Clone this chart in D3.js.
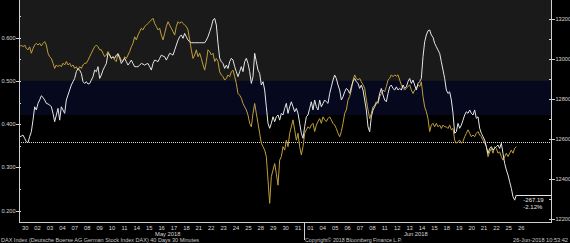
<!DOCTYPE html>
<html><head><meta charset="utf-8">
<script src="https://cdn.jsdelivr.net/npm/d3@7"></script>
<style>html,body{margin:0;padding:0;background:#000;overflow:hidden}svg{display:block}</style>
</head><body>
<script>
// ---------- data ----------
const dayLabels = ["30","02","03","04","07","08","09","10","11","14","15","16","17","18",
  "21","22","23","24","25","28","29","30","31","01","04","05","06","07","08","11","12",
  "13","14","15","18","19","20","21","22","25","26"];
const monthNames = ["May 2018","Jun 2018"];
const monthFirstDay = [1, 23];
const monthLastDay = [22, 40];
const leftTicks = [0.2, 0.3, 0.4, 0.5, 0.6];
const rightTicks = [12200, 12400, 12600, 12800, 13000, 13200];
const sampleStart = 0.054;   // trading days
const sampleStep = 0.1344;   // trading days between samples

// DAX index (right axis)
const daxValues = [
12610,12613,12618,12602,12585,12580,12610,12635,12693,12760,
12744,12777,12794,12815,12807,12794,12777,12774,12769,12760,
12727,12685,12719,12752,12693,12760,12744,12727,12794,12819,
12844,12869,12886,12902,12936,12952,12944,12927,12886,12877,
12886,12874,12877,12894,12911,12944,12936,12961,12902,12919,
12944,12961,12977,13028,13019,13003,13011,13003,13019,13024,
13003,12977,12991,13003,12986,12969,12981,12994,12977,12961,
12961,12961,12969,12977,12974,12969,12974,12977,12961,12944,
12977,12994,12991,12986,13003,13019,13014,13011,12994,13011,
13028,13024,13019,13044,13069,13094,13111,13120,13103,13128,
13111,13094,13086,13081,13081,13081,13081,13081,13081,13081,
13081,13081,13094,13111,13136,13161,13195,13203,
13170,13078,13003,12986,12977,12952,12969,12952,12986,13003,
12994,12961,12936,12911,12936,12961,12936,12986,13003,12977,
12936,12877,12911,13028,12986,12944,12927,12869,12886,12844,
12760,12677,12652,12677,12710,12685,12710,12719,12693,12727,
12719,12752,12777,12727,12760,12785,12760,12735,12752,12727,
12677,12627,12602,12660,12710,12719,12752,12785,
12744,12794,12760,12744,12794,12760,12777,12794,12785,12777,
12827,12860,12894,12919,12902,12869,12844,12794,12810,12835,
12852,12844,12827,12860,12886,12902,12886,12877,12852,12869,
12844,12794,12744,12660,12635,12710,12744,12760,12777,12785,
12827,12852,12819,12794,12785,12827,12860,12869,12852,12844,
12860,12844,12852,12844,12869,12852,12860,12886,12902,
12877,12894,12869,12844,12877,12886,12902,13011,13086,13120,
13141,13145,13120,13108,13078,13061,13044,13028,12986,12944,
12902,12844,12827,12835,12794,12727,12627,12635,12677,12652,
12668,12693,12719,12735,12727,12744,12727,12719,12744,12702,
12710,12652,12627,12610,12593,12560,12526,12551,12560,12543,
12551,12560,12568,12551,12577,12526,12476,12443,12418,12384,
12351,12309,12292,12318
];

// Yield series (left axis)
const yieldValues = [
0.579,0.583,0.579,0.583,0.575,0.572,0.579,0.564,0.575,0.583,
0.587,0.583,0.587,0.581,0.587,0.591,0.583,0.564,0.556,0.552,
0.541,0.529,0.537,0.533,0.537,0.533,0.541,0.537,0.545,0.537,
0.541,0.533,0.537,0.529,0.533,0.525,0.533,0.529,0.537,0.541,
0.541,0.548,0.556,0.564,0.572,0.579,0.583,0.579,0.572,0.572,
0.564,0.556,0.560,0.568,0.560,0.552,0.556,0.548,0.545,0.564,
0.556,0.548,0.545,0.556,0.552,0.560,0.568,0.579,0.587,0.602,
0.595,0.606,0.614,0.622,0.618,0.626,0.629,0.633,0.637,0.641,
0.645,0.633,0.626,0.618,0.622,0.606,0.595,0.610,0.626,0.637,
0.629,0.622,0.614,0.606,0.626,0.637,0.633,0.637,0.633,0.629,
0.626,0.618,0.595,0.572,0.552,0.560,0.572,0.556,0.564,0.552,
0.537,0.525,0.545,0.572,0.568,0.560,0.564,0.545,
0.552,0.545,0.521,0.514,0.510,0.502,0.506,0.514,0.510,0.521,
0.525,0.510,0.494,0.471,0.467,0.460,0.448,0.440,0.433,0.421,
0.402,0.394,0.425,0.448,0.425,0.402,0.379,0.356,0.348,0.340,
0.325,0.271,0.217,0.279,0.294,0.309,0.286,0.259,0.317,0.325,
0.348,0.340,0.363,0.348,0.379,0.394,0.410,0.387,0.363,0.379,
0.348,0.329,0.348,0.379,0.387,0.394,0.390,0.398,
0.402,0.383,0.398,0.406,0.413,0.402,0.417,0.410,0.406,0.413,
0.417,0.410,0.402,0.398,0.390,0.379,0.371,0.383,0.402,0.425,
0.433,0.456,0.464,0.479,0.502,0.514,0.506,0.502,0.506,0.498,
0.491,0.483,0.456,0.433,0.413,0.425,0.440,0.444,0.452,0.448,
0.464,0.471,0.479,0.475,0.487,0.502,0.506,0.514,0.510,0.514,
0.511,0.514,0.502,0.491,0.483,0.479,0.483,0.487,0.491,
0.479,0.471,0.479,0.483,0.491,0.487,0.498,0.464,0.440,0.429,
0.413,0.383,0.398,0.402,0.394,0.402,0.394,0.398,0.390,0.398,
0.394,0.394,0.390,0.398,0.387,0.390,0.363,0.356,0.360,0.363,
0.356,0.360,0.371,0.379,0.387,0.379,0.371,0.375,0.371,0.379,
0.383,0.375,0.371,0.363,0.356,0.348,0.325,0.336,0.344,0.333,
0.348,0.344,0.333,0.336,0.325,0.317,0.325,0.333,0.325,0.333,
0.340,0.333,0.344,0.348
];

const referenceLevel = 12585.3;
const changeText = "-267.19";
const changePctText = "-2.12%";
const bandLevels = [0.5, 0.421];   // left-axis levels of the shaded bands
const footerLeft = "DAX Index (Deutsche Boerse AG German Stock Index DAX) 40 Days 30 Minutes";
const footerMid = "Copyright\u00A9 2018 Bloomberg Finance L.P.";
const footerRight = "26-Jun-2018 10:53:42";

// ---------- layout ----------
const W = 570, H = 243;
const PL = 19, PR = 551, PT = 0, PB = 222;
const FONT = "'Liberation Sans', Arial, sans-serif";

const svg = d3.select("body").append("svg").attr("width", W).attr("height", H)
  .style("background", "#000");

const x = d3.scaleLinear().domain([0, 42.9]).range([PL, PR]);
const yL = d3.scaleLinear().domain([0.2, 0.6]).range([210.7, 37.7]);
const yR = d3.scaleLinear().domain([12200, 13200]).range([218.5, 19]);

// bands
svg.append("rect").attr("x", PL).attr("y", PT).attr("width", PR - PL)
  .attr("height", yL(bandLevels[0]) - PT).attr("fill", "#1a1a1a");
svg.append("rect").attr("x", PL).attr("y", yL(bandLevels[0])).attr("width", PR - PL)
  .attr("height", yL(bandLevels[1]) - yL(bandLevels[0])).attr("fill", "#06081d");

// reference dotted line
svg.append("line").attr("x1", PL).attr("x2", PR)
  .attr("y1", Math.round(yR(referenceLevel)) + 0.5).attr("y2", Math.round(yR(referenceLevel)) + 0.5)
  .attr("stroke", "#d8d8d8").attr("stroke-width", 1).attr("stroke-dasharray", "1,1");

const tOf = i => sampleStart + i * sampleStep;

const yieldLine = d3.line().x((d, i) => x(tOf(i))).y(d => yL(d));
const daxLine = d3.line().x((d, i) => x(tOf(i))).y(d => yR(d));

svg.append("path").datum(yieldValues).attr("d", yieldLine)
  .attr("fill", "none").attr("stroke", "#bf9f3c").attr("stroke-width", 1);
svg.append("path").datum(daxValues).attr("d", daxLine)
  .attr("fill", "none").attr("stroke", "#e6e6e6").attr("stroke-width", 1);

// axes lines
const axisColor = "#d0d0d0";
svg.append("line").attr("x1", PL + 0.5).attr("x2", PL + 0.5).attr("y1", PT).attr("y2", PB)
  .attr("stroke", axisColor);
svg.append("line").attr("x1", PR + 0.5).attr("x2", PR + 0.5).attr("y1", PT).attr("y2", PB)
  .attr("stroke", axisColor);
svg.append("line").attr("x1", PL).attr("x2", PR + 1).attr("y1", PB + 0.5).attr("y2", PB + 0.5)
  .attr("stroke", axisColor);

// left axis ticks
const leftMinor = d3.range(0.15, 0.66, 0.05).filter(v => yL(v) > PT && yL(v) < PB);
svg.selectAll(".lminor").data(leftMinor).enter().append("line")
  .attr("x1", PL).attr("x2", PL + 2)
  .attr("y1", d => Math.round(yL(d)) + 0.5).attr("y2", d => Math.round(yL(d)) + 0.5)
  .attr("stroke", axisColor);
svg.selectAll(".ltick").data(leftTicks).enter().append("line")
  .attr("x1", PL - 3).attr("x2", PL)
  .attr("y1", d => Math.round(yL(d)) + 0.5).attr("y2", d => Math.round(yL(d)) + 0.5)
  .attr("stroke", axisColor);
svg.selectAll(".llab").data(leftTicks).enter().append("text")
  .attr("x", PL - 3.5).attr("y", d => yL(d) + 2)
  .attr("text-anchor", "end").attr("font-family", FONT).attr("font-size", 5.6)
  .attr("fill", "#d8d8d8").text(d => d3.format(".3f")(d));

// right axis ticks
const rightMinor = d3.range(12100, 13301, 100).filter(v => yR(v) > PT && yR(v) < PB);
svg.selectAll(".rminor").data(rightMinor).enter().append("line")
  .attr("x1", PR - 2).attr("x2", PR)
  .attr("y1", d => Math.round(yR(d)) + 0.5).attr("y2", d => Math.round(yR(d)) + 0.5)
  .attr("stroke", axisColor);
svg.selectAll(".rtick").data(rightTicks).enter().append("line")
  .attr("x1", PR + 1).attr("x2", PR + 4)
  .attr("y1", d => Math.round(yR(d)) + 0.5).attr("y2", d => Math.round(yR(d)) + 0.5)
  .attr("stroke", axisColor);
svg.selectAll(".rlab").data(rightTicks).enter().append("text")
  .attr("x", PR + 4.5).attr("y", d => yR(d) + 2)
  .attr("font-family", FONT).attr("font-size", 5.6)
  .attr("fill", "#d8d8d8").text(d => d);

// x labels
svg.selectAll(".xlab").data(dayLabels).enter().append("text")
  .attr("x", (d, i) => x(i + 0.5)).attr("y", 229.5)
  .attr("text-anchor", "middle").attr("font-family", FONT).attr("font-size", 5.8)
  .attr("fill", "#d8d8d8").text(d => d);
svg.selectAll(".mlab").data(monthNames).enter().append("text")
  .attr("x", (d, i) => x((monthFirstDay[i] + monthLastDay[i] + 1) / 2)).attr("y", 236.3)
  .attr("text-anchor", "middle").attr("font-family", FONT).attr("font-size", 5.8)
  .attr("fill", "#d8d8d8").text(d => d);
// month separator
svg.append("line").attr("x1", Math.round(x(monthFirstDay[1])) + 0.5).attr("x2", Math.round(x(monthFirstDay[1])) + 0.5)
  .attr("y1", PB).attr("y2", 240).attr("stroke", axisColor);

// last value annotation
const lastI = daxValues.length - 1;
const lastY = Math.round(yR(daxValues[lastI])) + 0.5;
svg.append("line").attr("x1", x(tOf(lastI))).attr("x2", PR).attr("y1", lastY).attr("y2", lastY)
  .attr("stroke", "#e6e6e6");
svg.append("text").attr("x", x(tOf(lastI)) + 7).attr("y", lastY + 6.5)
  .attr("font-family", FONT).attr("font-size", 6).attr("fill", "#e6e6e6").text(changeText);
svg.append("text").attr("x", x(tOf(lastI)) + 7).attr("y", lastY + 13)
  .attr("font-family", FONT).attr("font-size", 6).attr("fill", "#e6e6e6").text(changePctText);

// footer
svg.append("text").attr("x", 1).attr("y", 242).attr("font-family", FONT).attr("font-size", 5.8)
  .attr("fill", "#c8c8c8").attr("textLength", 198).attr("lengthAdjust", "spacingAndGlyphs").text(footerLeft);
svg.append("text").attr("x", 305).attr("y", 242).attr("font-family", FONT).attr("font-size", 5.8)
  .attr("fill", "#c8c8c8").attr("textLength", 97).attr("lengthAdjust", "spacingAndGlyphs").text(footerMid);
svg.append("text").attr("x", 568).attr("y", 242).attr("text-anchor", "end").attr("font-family", FONT).attr("font-size", 5.8)
  .attr("fill", "#c8c8c8").attr("textLength", 55).attr("lengthAdjust", "spacingAndGlyphs").text(footerRight);
</script>
</body></html>
